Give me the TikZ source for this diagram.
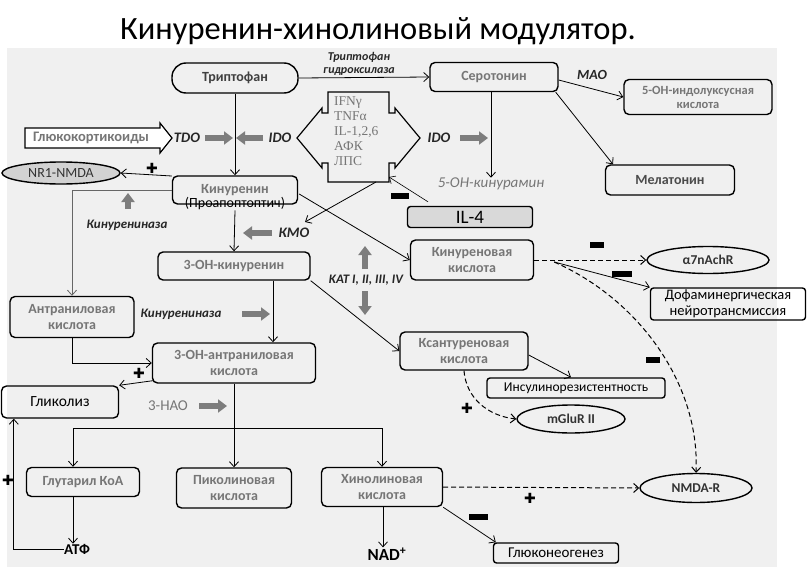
\documentclass[tikz,border=0pt]{standalone}
\usepackage{fontspec}
\setmainfont{Carlito}
\newfontfamily\serifgr{Liberation Serif}
\newfontfamily\symf{DejaVu Sans}
\usetikzlibrary{arrows.meta,shapes.geometric,calc}
\definecolor{panel}{RGB}{240,240,240}
\definecolor{txtgray}{RGB}{118,118,118}
\definecolor{garrow}{RGB}{125,125,125}
\tikzset{
  box/.style={draw, line width=1.4pt, rounded corners=5pt, inner sep=0pt, align=center,
    text=txtgray, font=\bfseries\fontsize{14}{15.5}\selectfont},
  blackbox/.style={box, text=black, rounded corners=3pt, font=\fontsize{14}{15.5}\selectfont},
  oval/.style={draw, line width=1.4pt, ellipse, inner sep=0pt, font=\bfseries\fontsize{13.5}{14}\selectfont, text=black!80},
  conn/.style={line width=0.8pt, -{Straight Barb[length=5pt,width=9pt]}},
  dconn/.style={conn, dashed, dash pattern=on 5pt off 3pt, line width=1pt},
  gar/.style={line width=5.5pt, draw=garrow, -{Triangle[length=9pt,width=13pt]}},
  lbl/.style={inner sep=0pt, font=\bfseries\itshape\fontsize{14.5}{15}\selectfont, text=black!85},
  slbl/.style={lbl, font=\bfseries\itshape\fontsize{13}{14}\selectfont},
  plus/.style={inner sep=0pt, font=\symf\fontsize{14}{14}\selectfont},
  minusbar/.style={fill=black},
}
\begin{document}
\begin{tikzpicture}[x=1pt,y=-1pt]
\useasboundingbox (0,0) rectangle (807,573);
\fill[panel] (7,48) rectangle (777,567);
\node[inner sep=0pt, font=\fontsize{32.5}{34}\selectfont] (title) at (378,31) {Кинуренин-хинолиновый модулятор.};

% main boxes
\node[box, rounded corners=14pt, minimum width=126, minimum height=30, text=black!75] (trp) at (235,78) {Триптофан};
\node[box, minimum width=128, minimum height=29] (ser) at (494,77) {Серотонин};
\node[box, minimum width=148, minimum height=35, font=\bfseries\fontsize{12.5}{14}\selectfont] (oh5) at (698,97) {5-ОН-индолуксусная\\кислота};
\node[box, minimum width=129, minimum height=30, text=black!70] (mel) at (670,180) {Мелатонин};
\node[box, minimum width=125, minimum height=28] (kyn) at (235,190) {Кинуренин};
\node[inner sep=0pt, font=\fontsize{14}{15}\selectfont] (proap) at (235,204) {(Проапоптоптич)};
\node[oval, fill=gray!35, minimum width=118, minimum height=22, font=\fontsize{14}{15}\selectfont] (nr1) at (61,173) {NR1-NMDA};
\node[blackbox, fill=gray!30, minimum width=125, minimum height=21, font=\fontsize{19}{20}\selectfont] (il4) at (470,217) {IL-4};
\node[box, minimum width=123, minimum height=40] (kna) at (472,260) {Кинуреновая\\кислота};
\node[box, minimum width=152, minimum height=28] (ohk) at (234,266) {3-ОН-кинуренин};
\node[box, minimum width=124, minimum height=41] (ant) at (72,317) {Антраниловая\\кислота};
\node[box, minimum width=128, minimum height=38] (xan) at (464,351) {Ксантуреновая\\кислота};
\node[box, minimum width=163, minimum height=40] (oha) at (234,363) {3-ОН-антраниловая\\кислота};
\node[box, minimum width=117, minimum height=32, text=black, font=\fontsize{15.5}{16}\selectfont] (gly) at (60,402) {Гликолиз};
\node[box, minimum width=113, minimum height=29] (glu) at (83,482) {Глутарил КоА};
\node[box, minimum width=115, minimum height=40] (pic) at (234,488) {Пиколиновая\\кислота};
\node[box, minimum width=121, minimum height=39] (qui) at (382,487) {Хинолиновая\\кислота};
\node[inner sep=0pt, font=\bfseries\fontsize{15}{16}\selectfont] (atf) at (77,549) {АТФ};
\node[inner sep=0pt, font=\bfseries\fontsize{17}{18}\selectfont] (nad) at (387,554) {NAD\textsuperscript{+}};
\node[blackbox, minimum width=125, minimum height=20, font=\fontsize{15}{16}\selectfont] (gng) at (556,553) {Глюконеогенез};
\node[oval, minimum width=112, minimum height=29] (nmda) at (696,488) {NMDA-R};
\node[oval, minimum width=122, minimum height=27] (a7) at (708,260) {α7nAchR};
\node[blackbox, minimum width=155, minimum height=32, font=\fontsize{14.5}{16}\selectfont] (dop) at (728,304) {Дофаминергическая\\нейротрансмиссия};
\node[blackbox, minimum width=178, minimum height=20, font=\fontsize{13.5}{15}\selectfont] (ins) at (576,388) {Инсулинорезистентность};
\node[oval, minimum width=108, minimum height=28] (mglu) at (571,419) {mGluR II};

% outlined arrow shapes
\draw[line width=1.2pt, fill=white] (25,128) -- (160,128) -- (160,123) -- (172,138) -- (160,153) -- (160,148) -- (25,148) -- cycle;
\node[inner sep=0pt, text=txtgray, font=\bfseries\fontsize{14.5}{15}\selectfont] (gk) at (91,138) {Глюкокортикоиды};
\draw[line width=1.2pt, fill=panel] (328,92) -- (389,92) -- (389,113) -- (395,113) -- (395,108) -- (420,138) -- (395,168) -- (395,163) -- (389,163) -- (389,182) -- (328,182) -- (328,163) -- (322,163) -- (322,168) -- (297,138) -- (322,108) -- (322,113) -- (328,113) -- cycle;
\node[inner sep=0pt, align=left, text=txtgray, font=\serifgr\fontsize{13.5}{15}\selectfont, anchor=north west] (cyto) at (334,96) {IFNγ\\TNFα\\IL-1,2,6\\АФК\\ЛПС};

% labels
\node[lbl, align=center, font=\bfseries\itshape\fontsize{12}{12.5}\selectfont] (th) at (359,64) {Триптофан\\гидроксилаза};
\node[lbl, font=\bfseries\itshape\fontsize{14}{15}\selectfont] (mao) at (592,75) {МАО};
\node[lbl] (tdo) at (187,138) {TDO};
\node[lbl] (ido1) at (280,138) {IDO};
\node[lbl] (ido2) at (439,138) {IDO};
\node[lbl] (kmo) at (294,233) {КМО};
\node[slbl] (kin1) at (127,225) {Кинурениназа};
\node[slbl] (kin2) at (181,314) {Кинурениназа};
\node[slbl] (kat) at (366,280) {KAT I, II, III, IV};
\node[inner sep=0pt, text=txtgray, font=\itshape\fontsize{15}{16}\selectfont] (kur) at (491,184) {5-ОН-кинурамин};
\node[inner sep=0pt, text=txtgray, font=\fontsize{15}{16}\selectfont] (hao) at (168,406) {3-НАО};

% gray arrows
\draw[gar] (205,138) -- (233,138);
\draw[gar] (263,138) -- (236,138);
\draw[gar] (460,138) -- (488,138);
\draw[gar] (128,209) -- (128,193);
\draw[gar] (272,233) -- (243,233);
\draw[gar] (365,269) -- (365,246);
\draw[gar] (365,291) -- (365,315);
\draw[gar] (242,314) -- (270,314);
\draw[gar] (199,406) -- (227,406);

% connectors
\draw[conn] (trp.east) -- (ser.west);
\draw[conn] ($(ser.east)+(0,3)$) -- (oh5.west);
\draw[conn] ($(ser.south east)+(-3,0)$) -- ($(mel.north)+(-57,0)$);
\coordinate (s1) at ($(ser.south)+(-3,0)$);
\draw[conn] (s1) -- (s1 |- kur.north);
\draw[conn] (trp.south) -- (kyn.north);
\draw[conn] ($(kyn.west)+(0,-14)$) -- (nr1.east);
\draw[conn, draw=black!60] (kyn.west) -| (ant.north);
\draw[conn] (proap.south) -- (ohk.north);
\draw[conn] ($(kyn.east)+(1,4)$) -- (kna.west);
\coordinate (kmotip) at (305,222);
\draw[conn] (376,182) -- (kmotip);
\draw[conn, line width=0.6pt] ($(il4.north)+(-42,-4)$) -- (389,177);
\draw[conn] ($(ohk.south)+(39,0)$) -- ($(oha.north)+(39,0)$);
\draw[conn] (ohk.south east) -- (xan.west);
\draw[conn] (ant.south) |- (oha.west);
\draw[conn] ($(oha.south west)+(1,-3)$) -- (gly.north east);
\coordinate (br) at ($(oha.south)+(0,45)$);
\draw[line width=1pt] (oha.south) -- (br);
\draw[conn] (br) -| ($(glu.north)+(-10,0)$);
\draw[conn] (br) -- (pic.north);
\draw[conn] (br) -| (qui.north);
\coordinate (g1) at ($(glu.south)+(-10,0)$);
\draw[conn] (g1) -- (g1 |- atf.north);
\draw[conn] (atf.west) -| ($(gly.south west)+(13,0)$);
\coordinate (q1) at ($(qui.south)+(1,0)$);
\draw[conn] (q1) -- (q1 |- nad.north);
\draw[conn] (qui.south east) -- ($(gng.north west)+(3,0)$);
\draw[dconn] (qui.east) -- (nmda.west);
\draw[dconn] (kna.east) -- (a7.west);
\coordinate (kd) at ($(kna.east)+(20,2)$);
\draw[conn] (kd) -- (dop.north west);
\draw[dconn] (kd) .. controls (640,300) and (700,385) .. (nmda.north);
\draw[conn] ($(xan.east)+(0,4)$) -- ($(ins.north)+(-5,0)$);
\draw[dconn] (xan.south) .. controls (466,398) and (488,416) .. (mglu.west);

% plus / minus marks
\node[plus] (p1) at (152,168) {✚};
\node[plus] (p2) at (139,373) {✚};
\node[plus] (p3) at (8,480) {✚};
\node[plus] (p4) at (467,408) {✚};
\node[plus] (p5) at (530,498) {✚};
\fill[minusbar] (391,193) rectangle (409,199);
\fill[minusbar] (590,242) rectangle (604,248);
\fill[minusbar] (612,271) rectangle (632,277);
\fill[minusbar] (646,357) rectangle (660,363);
\fill[minusbar] (469,514) rectangle (488,520);
\end{tikzpicture}
\end{document}
